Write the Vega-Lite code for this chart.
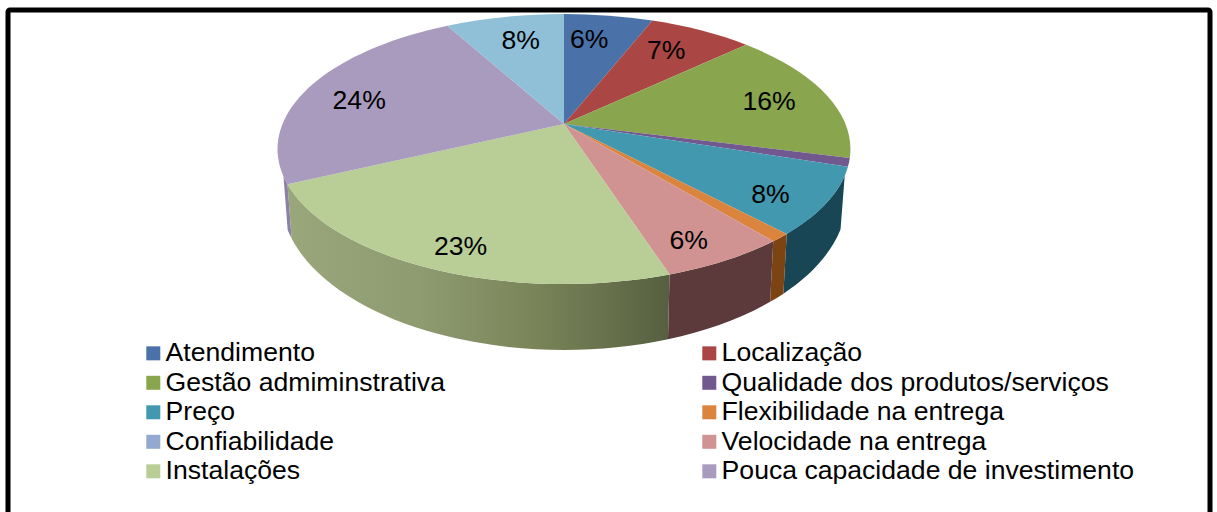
{
"$schema":"https://vega.github.io/schema/vega-lite/v6.json",
"width":1202,"height":520,"autosize":"none",
"padding":{"left":8,"top":10,"right":7,"bottom":0},
"background":"#ffffff",
"config":{"view":{"stroke":"#000000","strokeWidth":5,"cornerRadius":2}},
"data":{"values":[
{"ordem":1,"categoria":"Atendimento","valor":6},
{"ordem":2,"categoria":"Localização","valor":7},
{"ordem":3,"categoria":"Gestão admiminstrativa","valor":16},
{"ordem":4,"categoria":"Qualidade dos produtos/serviços","valor":1},
{"ordem":5,"categoria":"Preço","valor":8},
{"ordem":6,"categoria":"Flexibilidade na entrega","valor":1},
{"ordem":7,"categoria":"Confiabilidade","valor":0},
{"ordem":8,"categoria":"Velocidade na entrega","valor":6},
{"ordem":9,"categoria":"Instalações","valor":23},
{"ordem":10,"categoria":"Pouca capacidade de investimento","valor":24},
{"ordem":11,"categoria":"Sem legenda","valor":8}
]},
"transform":[
{"window":[{"op":"sum","field":"valor","as":"cum"}],"sort":[{"field":"ordem","order":"ascending"}],"frame":[null,0]},
{"calculate":"(datum.cum-datum.valor)*2*PI/100","as":"t0"},
{"calculate":"datum.cum*2*PI/100","as":"t1"},
{"calculate":"(datum.t0+datum.t1)/2","as":"tm0"},
{"calculate":"datum.tm0<1.5?datum.tm0-0.06:datum.tm0>5.5?datum.tm0+0.03:datum.tm0","as":"tm"},
{"calculate":"281.5*sin(datum.t0)/(1+0.185*cos(datum.t0))","as":"x0"},
{"calculate":"-130.4*cos(datum.t0)/(1+0.185*cos(datum.t0))","as":"y0"},
{"calculate":"281.5*sin(datum.t1)/(1+0.185*cos(datum.t1))","as":"x1"},
{"calculate":"-130.4*cos(datum.t1)/(1+0.185*cos(datum.t1))","as":"y1"},
{"calculate":"'M0,0L'+datum.x0+','+datum.y0+'A286.5,135 0 0 1 '+datum.x1+','+datum.y1+'Z'","as":"topo"},
{"calculate":"max(datum.t0,1.95)","as":"a0"},
{"calculate":"min(datum.t1,4.33)","as":"a1"},
{"calculate":"281.5*sin(datum.a0)/(1+0.185*cos(datum.a0))","as":"p0x"},
{"calculate":"-130.4*cos(datum.a0)/(1+0.185*cos(datum.a0))","as":"p0y"},
{"calculate":"281.5*sin(datum.a1)/(1+0.185*cos(datum.a1))","as":"p1x"},
{"calculate":"-130.4*cos(datum.a1)/(1+0.185*cos(datum.a1))","as":"p1y"},
{"calculate":"datum.p0x*0.985","as":"q0x"},
{"calculate":"datum.p1x*0.985","as":"q1x"},
{"calculate":"73+153*sqrt(max(0,1-pow(datum.q0x/283,2)))","as":"q0y"},
{"calculate":"73+153*sqrt(max(0,1-pow(datum.q1x/283,2)))","as":"q1y"},
{"calculate":"'M'+datum.p0x+','+datum.p0y+'A286.5,135 0 0 1 '+datum.p1x+','+datum.p1y+'L'+datum.q1x+','+datum.q1y+'A283,153 0 0 0 '+datum.q0x+','+datum.q0y+'Z'","as":"lado"},
{"calculate":"datum.categoria=='Instalações'?{gradient:'linear',x1:0,y1:0,x2:1,y2:0,stops:[{offset:0,color:'#9aa77b'},{offset:0.35,color:'#8e9a70'},{offset:0.65,color:'#7a8459'},{offset:1,color:'#566040'}]}:datum.categoria=='Velocidade na entrega'?'#5c3a3b':datum.categoria=='Flexibilidade na entrega'?'#7c4413':datum.categoria=='Preço'?'#184655':'#8d82a6'","as":"corLado"},
{"calculate":"1+0.148*cos(datum.tm)","as":"lw"},
{"calculate":"225.2*sin(datum.tm)/datum.lw","as":"lx"},
{"calculate":"-104.3*cos(datum.tm)/datum.lw+9-3*cos(datum.tm)","as":"ly"},
{"calculate":"datum.valor+'%'","as":"rotulo"}
],
"layer":[
{"transform":[{"filter":"datum.valor>0 && datum.a1>datum.a0"}],
 "mark":{"type":"point","filled":true,"opacity":1,"size":4},
 "encoding":{
  "x":{"datum":0,"type":"quantitative","scale":{"domain":[-556,646],"nice":false,"zero":false},"axis":null},
  "y":{"datum":0,"type":"quantitative","scale":{"domain":[-114,406],"nice":false,"zero":false,"reverse":true},"axis":null},
  "shape":{"field":"lado","type":"nominal","scale":null,"legend":null},
  "fill":{"field":"corLado","type":"nominal","scale":null,"legend":null}
 }},
{"transform":[{"filter":"datum.valor>0"}],
 "mark":{"type":"point","filled":true,"opacity":1,"size":4},
 "encoding":{
  "x":{"datum":0,"type":"quantitative"},
  "y":{"datum":0,"type":"quantitative"},
  "shape":{"field":"topo","type":"nominal","scale":null,"legend":null},
  "color":{"field":"categoria","type":"nominal","sort":null,
   "scale":{"domain":["Atendimento","Localização","Gestão admiminstrativa","Qualidade dos produtos/serviços","Preço","Flexibilidade na entrega","Confiabilidade","Velocidade na entrega","Instalações","Pouca capacidade de investimento","Sem legenda"],
   "range":["#4a72a8","#aa4643","#89a54e","#71588f","#4198af","#db843d","#93a9cf","#d19392","#b9cd96","#a99bbd","#8fc0d8"]},
   "legend":{"title":null,"orient":"none","direction":"horizontal","legendX":132,"legendY":330,"columns":2,"gridAlign":"all","columnPadding":117,"rowPadding":2.5,"symbolType":"square","symbolSize":196,"symbolStrokeWidth":0,"symbolOpacity":1,"labelFont":"Liberation Sans","labelFontSize":26.6,"labelColor":"#000000","labelOffset":-1,"labelLimit":500,
   "values":["Atendimento","Localização","Gestão admiminstrativa","Qualidade dos produtos/serviços","Preço","Flexibilidade na entrega","Confiabilidade","Velocidade na entrega","Instalações","Pouca capacidade de investimento"]}}
 }},
{"transform":[{"filter":"datum.valor>=5"}],
 "mark":{"type":"text","font":"Liberation Sans","fontSize":26.6,"color":"#000000","align":"center","baseline":"middle"},
 "encoding":{
  "x":{"field":"lx","type":"quantitative"},
  "y":{"field":"ly","type":"quantitative"},
  "text":{"field":"rotulo","type":"nominal"}
 }}
]
}
